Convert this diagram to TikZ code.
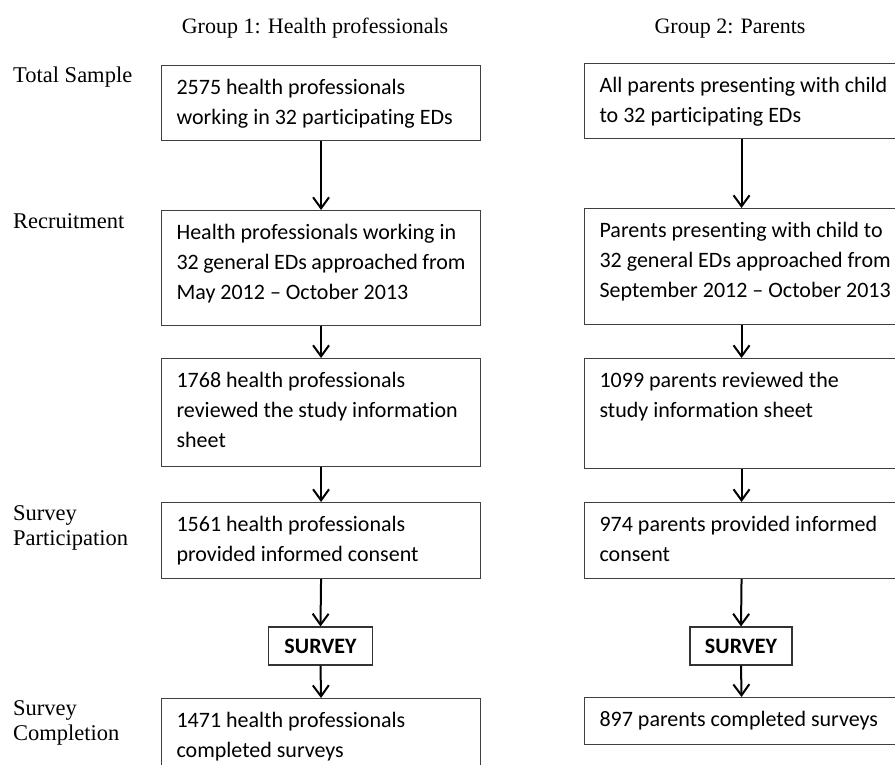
\documentclass[tikz,border=0pt]{standalone}
\usepackage{fontspec}
\usepackage{tikz}
\usetikzlibrary{arrows.meta}
\setmainfont{Liberation Serif}
\newfontfamily\calfont[Ligatures={TeX,NoCommon}]{Carlito}

\newcommand{\boxtxt}[3]{\parbox[t][#2][t]{#1}{\vspace*{8pt}\strut #3}}

\begin{document}
\begin{tikzpicture}[x=1pt, y=-1pt,
    stage/.style={draw=black!75, line width=1.1pt, anchor=north west, inner xsep=15pt, inner ysep=0pt,
        font=\calfont\fontsize{22}{30}\selectfont},
    surveybox/.style={draw=black!80, line width=1.1pt, minimum width=104pt, minimum height=38pt, inner sep=0pt,
        font=\calfont\bfseries\fontsize{22}{26}\selectfont},
    rowlabel/.style={anchor=base west, align=left, inner sep=0pt, font=\fontsize{22.5}{25}\selectfont},
    grouplabel/.style={anchor=base, inner sep=0pt, font=\fontsize{22}{25}\selectfont},
    flow/.style={line width=2pt, -{Straight Barb[length=11pt, width=16pt, line width=2pt]}}]

    \useasboundingbox (0,0) rectangle (895,765);
    \clip (0,0) rectangle (895,765);

    % headings
    \node[grouplabel] (g1) at (315,34) {Group 1: Health professionals};
    \node[grouplabel] (g2) at (730,34) {Group 2: Parents};

    \node[rowlabel] (total) at (13,83) {Total Sample};
    \node[rowlabel] (recruit) at (13,229) {Recruitment};
    \node[rowlabel] (partic) at (13,545) {Survey\\Participation};
    \node[rowlabel] (compl) at (13,740) {Survey\\Completion};

    % group 1
    \node[stage] (h1) at (161,65) {\boxtxt{289pt}{75pt}{2575 health professionals\\working in 32 participating EDs}};
    \node[stage] (h2) at (161,210) {\boxtxt{289pt}{115pt}{Health professionals working in\\32 general EDs approached from\\May 2012 – October 2013}};
    \node[stage] (h3) at (161,358) {\boxtxt{289pt}{108pt}{1768 health professionals\\reviewed the study information\\sheet}};
    \node[stage] (h4) at (161,502) {\boxtxt{289pt}{76pt}{1561 health professionals\\provided informed consent}};
    \node[surveybox] (hs) at (320.5,646) {SURVEY};
    \node[stage] (h5) at (161,698) {\boxtxt{289pt}{100pt}{1471 health professionals\\completed surveys}};

    % group 2
    \node[stage] (p1) at (584,63) {\boxtxt{284pt}{75pt}{\mbox{All parents presenting with child}\\to 32 participating EDs}};
    \node[stage] (p2) at (584,208) {\boxtxt{284pt}{116pt}{\mbox{Parents presenting with child to}\\\mbox{32 general EDs approached from}\\\mbox{September 2012 – October 2013}}};
    \node[stage] (p3) at (584,358) {\boxtxt{284pt}{110pt}{1099 parents reviewed the\\study information sheet}};
    \node[stage] (p4) at (584,502) {\boxtxt{284pt}{76pt}{\mbox{974 parents provided informed}\\consent}};
    \node[surveybox, minimum width=102pt] (ps) at (741,646) {SURVEY};
    \node[stage] (p5) at (584,697) {\boxtxt{284pt}{47pt}{\mbox{897 parents completed surveys}}};

    \foreach \a/\b in {h1/h2, h2/h3, h3/h4, h4/hs, hs/h5, p1/p2, p2/p3, p3/p4, p4/ps, ps/p5}
        \draw[flow] (\a.south) -- (\b.north);
\end{tikzpicture}
\end{document}
